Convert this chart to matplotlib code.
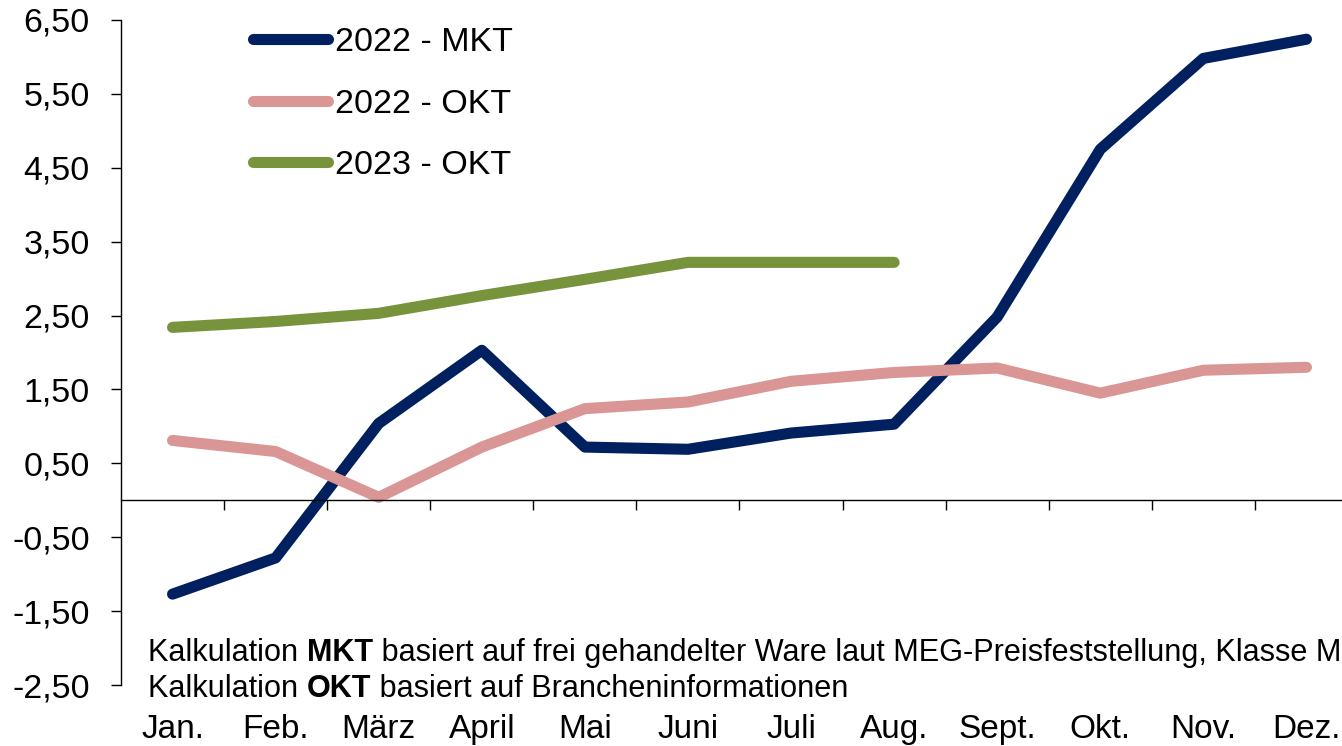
import numpy as np
import matplotlib
matplotlib.use("Agg")
import matplotlib.pyplot as plt
from matplotlib.ticker import FuncFormatter

plt.rcParams['font.family'] = ['Liberation Sans', 'DejaVu Sans']

months = ['Jan.', 'Feb.', 'März', 'April', 'Mai', 'Juni', 'Juli', 'Aug.',
          'Sept.', 'Okt.', 'Nov.', 'Dez.']
mkt_2022 = [-1.27, -0.78, 1.04, 2.03, 0.72, 0.69, 0.91, 1.03, 2.48, 4.75, 5.98, 6.24]
okt_2022 = [0.81, 0.66, 0.04, 0.72, 1.24, 1.33, 1.61, 1.73, 1.79, 1.45, 1.76, 1.80]
okt_2023 = [2.34, 2.42, 2.53, 2.77, 2.99, 3.22, 3.22, 3.22]
y_ticks = [-2.5, -1.5, -0.5, 0.5, 1.5, 2.5, 3.5, 4.5, 5.5, 6.5]

fig = plt.figure(figsize=(13.42, 7.46), dpi=100)
W, H = 1342, 746
# axis runs past the right edge of the picture, as in the original
ax = fig.add_axes([121 / W, 1 - 685 / H, 1237 / W, 665 / H])

lw = 8
ax.plot(range(len(mkt_2022)), mkt_2022, color='#002060', lw=lw,
        solid_capstyle='round', label='2022 - MKT')
ax.plot(range(len(okt_2022)), okt_2022, color='#D99694', lw=lw,
        solid_capstyle='round', label='2022 - OKT')
ax.plot(range(len(okt_2023)), okt_2023, color='#77933C', lw=lw,
        solid_capstyle='round', label='2023 - OKT')

ax.set_xlim(-0.5, 11.5)
ax.set_ylim(-2.5, 6.5)

for s in ['top', 'right']:
    ax.spines[s].set_visible(False)
ax.spines['bottom'].set_position(('data', 0))
ax.spines['left'].set_linewidth(1.0)
ax.spines['bottom'].set_linewidth(1.0)

ax.set_yticks(y_ticks)
ax.yaxis.set_major_formatter(FuncFormatter(lambda v, p: f"{v:.2f}".replace('.', ',')))
ax.tick_params(axis='y', direction='out', length=7.5, width=1.0, labelsize=24.5, pad=15)

# category boundaries on the zero line
ax.set_xticks(np.arange(0.5, 11, 1.0))
ax.tick_params(axis='x', direction='out', length=7.5, width=1.0, labelbottom=False)

# month names at the bottom of the chart
sec = ax.secondary_xaxis('bottom')
sec.set_xticks(range(len(months)), months)
sec.tick_params(length=0, labelsize=24, pad=21)
sec.spines['bottom'].set_visible(False)

leg = ax.legend(loc='upper left', bbox_to_anchor=(253 / W, 1 - 27 / H),
                bbox_transform=fig.transFigure, frameon=False, fontsize=24.5,
                handlelength=2.2, handletextpad=0.2, labelspacing=0.9,
                borderpad=0, borderaxespad=0)

# footnote with bold words
def note(y, bold, rest):
    t = fig.text(148 / W, y, 'Kalkulation ', fontsize=22.1, va='baseline')
    b = ax.annotate(bold, xy=(1, 0), xycoords=t, fontsize=22.1, fontweight='bold',
                    va='bottom', annotation_clip=False)
    ax.annotate(rest, xy=(1, 0), xycoords=b, fontsize=22.1, va='bottom',
                annotation_clip=False)

note(1 - 661 / H, 'MKT', ' basiert auf frei gehandelter Ware laut MEG-Preisfeststellung, Klasse M')
note(1 - 697 / H, 'OKT', ' basiert auf Brancheninformationen')

fig.savefig('out.png', dpi=100)
